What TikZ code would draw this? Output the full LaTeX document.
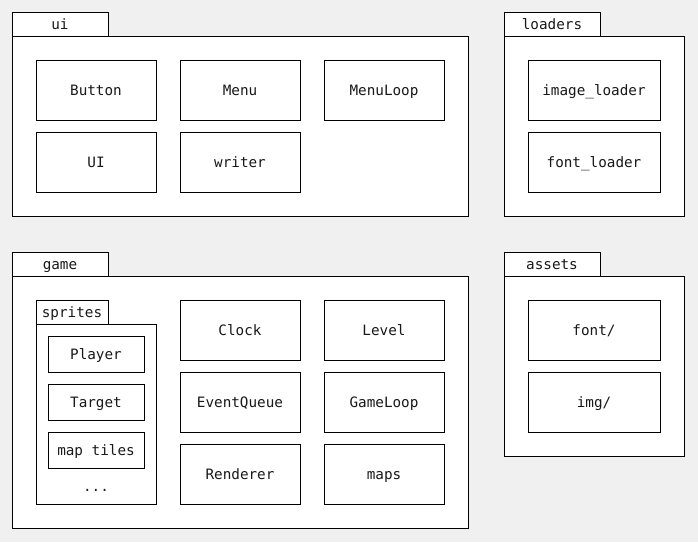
\documentclass[tikz,border=0pt]{standalone}
\usepackage{fontspec}
\setmonofont{DejaVu Sans Mono}
\begin{document}
\begin{tikzpicture}[x=1pt,y=-1pt,
  every node/.style={font=\ttfamily\fontsize{14.3}{16}\selectfont, text=black!90,
    inner sep=0pt, outer sep=0pt, text height=11pt, text depth=0pt},
  box/.style={draw=black, fill=white, line width=1pt, rectangle},
  pkgbody/.style={box},
  pkgtab/.style={box},
  item/.style={box, minimum width=120pt, minimum height=60pt},
  wideitem/.style={box, minimum width=132pt, minimum height=60pt},
  sprite/.style={box, minimum width=96pt, minimum height=36pt}]
  % page background
  \fill[fill={rgb,255:red,240;green,240;blue,240}] (0,0) rectangle (698,542);
  \useasboundingbox (0,0) rectangle (698,542);

  % ---- package: ui ----
  \node[pkgtab, minimum width=96pt, minimum height=24pt] (uitab) at (60,24) {ui};
  \node[pkgbody, minimum width=456pt, minimum height=180pt] (uibody) at (240,126) {};
  \node[item] (button) at (96,90) {Button};
  \node[item] (menu) at (240,90) {Menu};
  \node[item] (menuloop) at (384,90) {MenuLoop};
  \node[item] (ui) at (96,162) {UI};
  \node[item] (writer) at (240,162) {writer};

  % ---- package: loaders ----
  \node[pkgtab, minimum width=96pt, minimum height=24pt] (loaderstab) at (552,24) {loaders};
  \node[pkgbody, minimum width=180pt, minimum height=180pt] (loadersbody) at (594,126) {};
  \node[wideitem] (imageloader) at (594,90) {image\_loader};
  \node[wideitem] (fontloader) at (594,162) {font\_loader};

  % ---- package: game ----
  \node[pkgtab, minimum width=96pt, minimum height=24pt] (gametab) at (60,264) {game};
  \node[pkgbody, minimum width=456pt, minimum height=252pt] (gamebody) at (240,402) {};

  % nested package: sprites
  \node[pkgtab, minimum width=72pt, minimum height=24pt] (spritestab) at (72,312) {sprites};
  \node[pkgbody, minimum width=120pt, minimum height=180pt] (spritesbody) at (96,414) {};
  \node[sprite] (player) at (96,354) {Player};
  \node[sprite] (target) at (96,402) {Target};
  \node[sprite] (maptiles) at (96,450) {map tiles};
  \node (more) at (96,486) {...};

  \node[item] (clock) at (240,330) {Clock};
  \node[item] (eventqueue) at (240,402) {EventQueue};
  \node[item] (renderer) at (240,474) {Renderer};
  \node[item] (level) at (384,330) {Level};
  \node[item] (gameloop) at (384,402) {GameLoop};
  \node[item] (maps) at (384,474) {maps};

  % ---- package: assets ----
  \node[pkgtab, minimum width=96pt, minimum height=24pt] (assetstab) at (552,264) {assets};
  \node[pkgbody, minimum width=180pt, minimum height=180pt] (assetsbody) at (594,366) {};
  \node[wideitem] (fontdir) at (594,330) {font/};
  \node[wideitem] (imgdir) at (594,402) {img/};
\end{tikzpicture}
\end{document}
